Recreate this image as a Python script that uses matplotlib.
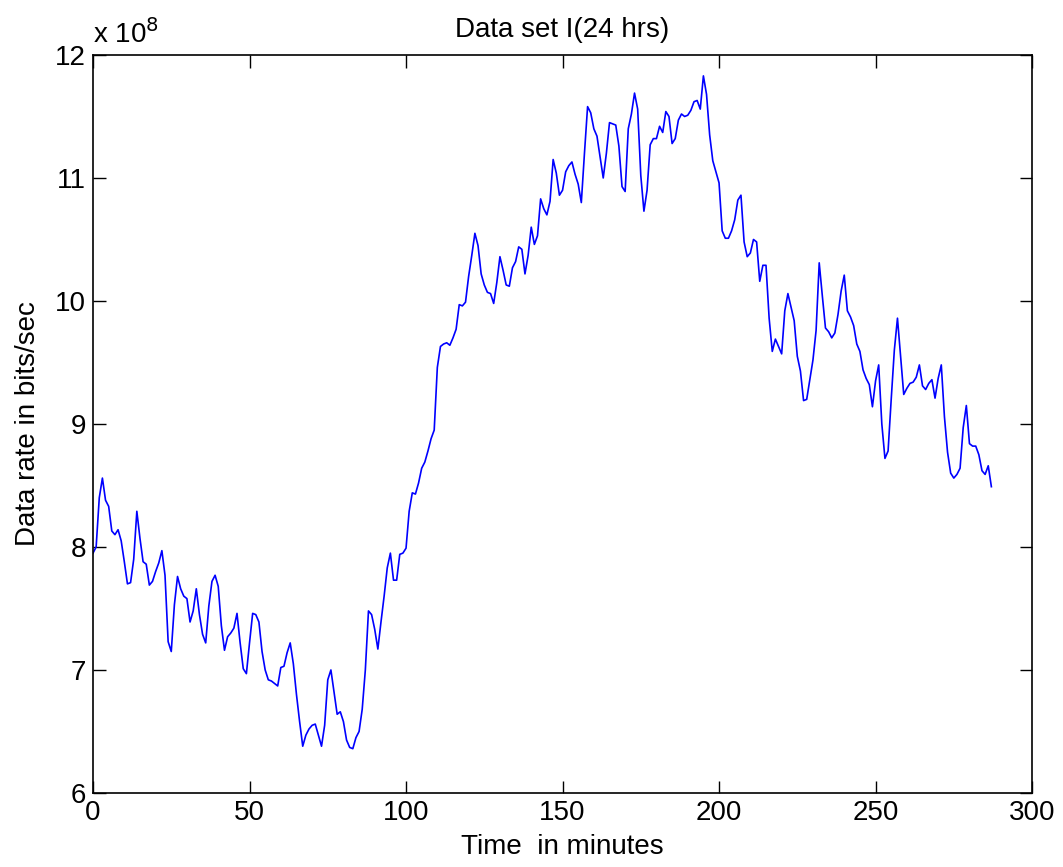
import matplotlib

matplotlib.use("Agg")
import matplotlib.pyplot as plt
import numpy as np

plt.rcParams["font.family"] = ["Liberation Sans", "DejaVu Sans"]

# data rate, in units of 1e8 bits/sec, one sample per time step
rate = [
    7.95, 8.00, 8.40, 8.56, 8.38, 8.33, 8.13, 8.10, 8.14, 8.05,
    7.88, 7.70, 7.71, 7.90, 8.29, 8.07, 7.88, 7.86, 7.69, 7.72,
    7.80, 7.87, 7.97, 7.77, 7.23, 7.15, 7.53, 7.76, 7.66, 7.60,
    7.58, 7.39, 7.48, 7.66, 7.45, 7.29, 7.22, 7.52, 7.72, 7.77,
    7.68, 7.36, 7.16, 7.27, 7.30, 7.34, 7.46, 7.22, 7.01, 6.97,
    7.22, 7.46, 7.45, 7.39, 7.15, 7.00, 6.92, 6.91, 6.89, 6.87,
    7.02, 7.03, 7.14, 7.22, 7.05, 6.80, 6.58, 6.38, 6.47, 6.52,
    6.55, 6.56, 6.47, 6.38, 6.55, 6.92, 7.00, 6.82, 6.64, 6.66,
    6.58, 6.43, 6.37, 6.36, 6.45, 6.50, 6.68, 7.00, 7.48, 7.45,
    7.33, 7.17, 7.39, 7.60, 7.83, 7.95, 7.73, 7.73, 7.94, 7.95,
    7.99, 8.29, 8.44, 8.43, 8.52, 8.64, 8.69, 8.78, 8.88, 8.95,
    9.46, 9.63, 9.65, 9.66, 9.64, 9.70, 9.77, 9.97, 9.96, 9.99,
    10.20, 10.37, 10.55, 10.45, 10.22, 10.13, 10.07, 10.06, 9.98, 10.15,
    10.36, 10.25, 10.13, 10.12, 10.27, 10.32, 10.44, 10.42, 10.22, 10.37,
    10.60, 10.46, 10.53, 10.83, 10.75, 10.70, 10.81, 11.15, 11.04, 10.86,
    10.90, 11.05, 11.10, 11.13, 11.03, 10.95, 10.80, 11.20, 11.58, 11.53,
    11.40, 11.34, 11.17, 11.00, 11.20, 11.45, 11.44, 11.43, 11.26, 10.93,
    10.89, 11.40, 11.52, 11.69, 11.56, 11.02, 10.73, 10.90, 11.27, 11.32,
    11.32, 11.42, 11.37, 11.54, 11.50, 11.28, 11.32, 11.47, 11.52, 11.50,
    11.51, 11.55, 11.62, 11.63, 11.56, 11.83, 11.68, 11.35, 11.14, 11.05,
    10.96, 10.57, 10.51, 10.51, 10.57, 10.66, 10.82, 10.86, 10.48, 10.36,
    10.39, 10.50, 10.48, 10.16, 10.29, 10.29, 9.86, 9.59, 9.69, 9.63,
    9.57, 9.92, 10.06, 9.95, 9.84, 9.55, 9.43, 9.19, 9.20, 9.36,
    9.52, 9.76, 10.31, 10.04, 9.78, 9.75, 9.70, 9.74, 9.89, 10.08,
    10.21, 9.92, 9.87, 9.80, 9.65, 9.59, 9.44, 9.37, 9.32, 9.14,
    9.35, 9.48, 9.00, 8.72, 8.78, 9.20, 9.60, 9.86, 9.55, 9.24,
    9.29, 9.33, 9.34, 9.38, 9.48, 9.31, 9.28, 9.33, 9.36, 9.21,
    9.37, 9.48, 9.06, 8.77, 8.60, 8.56, 8.59, 8.64, 8.97, 9.15,
    8.84, 8.82, 8.82, 8.75, 8.62, 8.59, 8.66, 8.49,
]
minutes = np.arange(len(rate))

x_ticks = [0, 50, 100, 150, 200, 250, 300]
y_ticks = [6, 7, 8, 9, 10, 11, 12]

fig = plt.figure(figsize=(10.63, 8.67), dpi=100)
ax = fig.add_axes([0.0875, 0.0854, 0.8834, 0.8512])
ax.plot(minutes, rate, color="#0000ff", linewidth=1.2)

ax.set_xlim(0, 300)
ax.set_ylim(6, 12)
ax.set_xticks(x_ticks)
ax.set_yticks(y_ticks)
ax.tick_params(direction="in", length=9, width=1, top=True, right=True, labelsize=20, pad=5)
for side in ax.spines.values():
    side.set_linewidth(1.2)

ax.set_title("Data set I(24 hrs)", fontsize=20, pad=13)
ax.set_xlabel("Time  in minutes", fontsize=20, labelpad=6)
ax.set_ylabel("Data rate in bits/sec", fontsize=20, labelpad=10)
ax.text(0.0, 1.008, "x 10$^{8}$", transform=ax.transAxes, fontsize=20, ha="left", va="bottom")

fig.savefig("out.png", dpi=100)
